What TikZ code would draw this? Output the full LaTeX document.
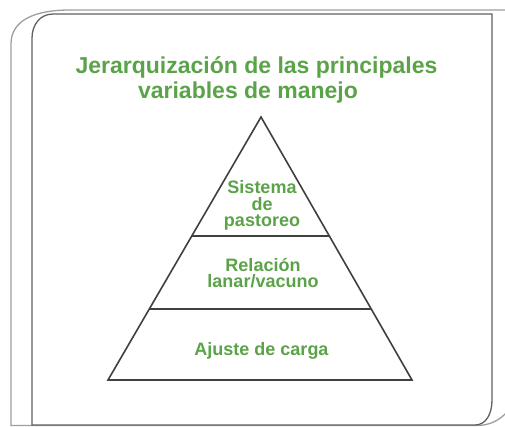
\documentclass[tikz,border=0pt]{standalone}
\usepackage{fontspec}
\setmainfont{Liberation Sans}
\usepackage{tikz}
\usetikzlibrary{calc}
\usetikzlibrary{positioning}
\definecolor{leafgreen}{RGB}{91,163,72}
\tikzset{
    backframe/.style={
      draw=black!38, line width=1.3pt,
    },
    frontframe/.style={
      draw=black!62, line width=1.3pt,
    },
    pyramid/.style={
      draw=black!75, line width=1.6pt, line join=miter,
    },
    heading/.style={
      text=leafgreen,
      inner sep=0pt,
      font=\bfseries\fontsize{23}{25}\selectfont,
    },
    layer/.style={
      text=leafgreen,
      inner sep=0pt,
      align=center,
      font=\bfseries\fontsize{18}{16.5}\selectfont,
    },
}

\begin{document}
\begin{tikzpicture}[x=1pt,y=-1pt]

    \useasboundingbox (0,0) rectangle (505,426);
    \clip (0,0) rectangle (505,426);

    % the two sheets
    \draw[backframe] (11,425.5) -- (11,44)
      .. controls (11,20) and (35,10) .. (70,10) -- (515,10) -- (515,389)
      .. controls (515,410) and (498,425.5) .. (477,425.5) -- cycle;
    \draw[frontframe, fill=white] (32,425) -- (32,38)
      .. controls (32,25) and (40,14) .. (53,14) -- (492,14) -- (492,400)
      .. controls (492,414) and (486,425) .. (475,425) -- cycle;

    \node[heading, anchor=base] (TITLE1) at (256.5,73)
      {Jerarquización de las principales};
    \node[heading, anchor=base] (TITLE2) at (248,98)
      {variables de manejo};

    % pyramid
    \coordinate (TOP) at (261,117);
    \coordinate (BASEL) at (108,380);
    \coordinate (BASER) at (412,380);

    \draw[pyramid] (TOP) -- (BASEL) -- (BASER) -- cycle;
    \draw[pyramid] ($(TOP)!.4525!(BASEL)$) -- ($(TOP)!.4525!(BASER)$);
    \draw[pyramid] ($(TOP)!.730!(BASEL)$) -- ($(TOP)!.730!(BASER)$);

    \node[layer] (GRAZING) at (262,205.5)
    {
      Sistema \\
      de \\
      pastoreo
    };

    \node[layer] (RATIO) at (263,273)
    {
      Relación \\
      lanar/vacuno
    };

    \node[layer] (STOCKING) at (264,350.5)
    {
      Ajuste de carga
    };

\end{tikzpicture}
\end{document}
